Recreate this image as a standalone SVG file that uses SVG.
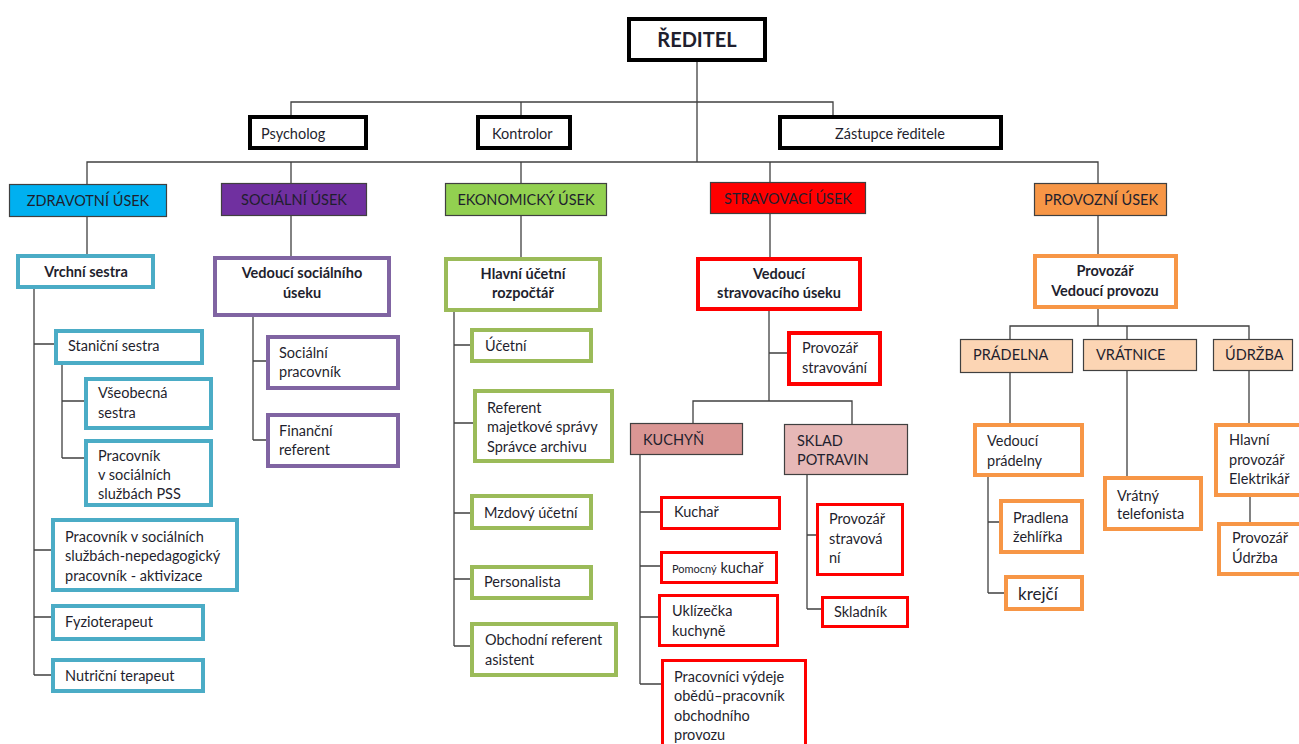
<svg xmlns="http://www.w3.org/2000/svg" width="1299" height="744" viewBox="0 0 1299 744">
<style>
.t{font-family:Lato,"Liberation Sans",sans-serif;font-size:14.5px;fill:#1f1f2e}
.b{font-weight:bold}
.c{text-anchor:middle}
.k{fill:#fff;stroke:#000;stroke-width:4}
.h{stroke:#404040;stroke-width:1.2}
.cy{fill:#fff;stroke:#4BACC6;stroke-width:4}
.pu{fill:#fff;stroke:#8064A2;stroke-width:4}
.gr{fill:#fff;stroke:#9BBB59;stroke-width:4}
.rd{fill:#fff;stroke:#FF0000;stroke-width:4}
.rd3{fill:#fff;stroke:#FF0000;stroke-width:3}
.or{fill:#fff;stroke:#F79646;stroke-width:4}
.ln{fill:none;stroke:#404040;stroke-width:1.3}
</style>
<rect width="1299" height="744" fill="#fff"/>
<g id="connectors" class="ln">
<path d="M697,62V162M291,115V102H833V115M521,102V115"/>
<path d="M87,184V162H1098V184M291,162V184M521,162V184M770,162V182"/>
<path d="M87,217V254M291,216V256M521,216V257M770,213V257M1098,216V254"/>
<path d="M34,289V675M34,344H54M34,550H51M34,617H51M34,675H51M62,365V458M62,401H84M62,458H84"/>
<path d="M253,317V440M253,361H266M253,440H266"/>
<path d="M454,312V646M454,345H470M454,423H473M454,513H470M454,579H470M454,646H470"/>
<path d="M769,311V401M769,353H787M693,423V401H852V424"/>
<path d="M640,455V684M640,512H660M640,566H660M640,617H658M640,684H661M807,475V609M807,535H816M807,609H821"/>
<path d="M1098,309V326M1010,339V326H1249V339M1127,326V339M1010,373V423M1127,371V477M1249,371V423M988,477V593M988,522H999M988,593H1004M1250,497V522"/>
</g>
<g id="reditel"><rect class="k" x="629" y="19" width="136" height="41"/><text class="t b c" x="697" y="47" style="font-size:20px">ŘEDITEL</text></g>
<g id="psycholog"><rect class="k" x="250" y="117" width="116" height="31"/><text class="t" x="261" y="139">Psycholog</text></g>
<g id="kontrolor"><rect class="k" x="478" y="117" width="92" height="31"/><text class="t" x="492" y="139">Kontrolor</text></g>
<g id="zastupce"><rect class="k" x="780" y="117" width="221" height="31"/><text class="t c" x="890" y="139">Zástupce ředitele</text></g>

<g id="zdravotni"><rect class="h" fill="#00B0F0" x="9.5" y="184.5" width="157" height="32"/><text class="t c" x="88" y="206">ZDRAVOTNÍ ÚSEK</text></g>
<g id="socialni"><rect class="h" fill="#7030A0" x="221.5" y="183.5" width="145" height="32"/><text class="t c" x="294" y="205">SOCIÁLNÍ ÚSEK</text></g>
<g id="ekonomicky"><rect class="h" fill="#92D050" x="445.5" y="183.5" width="161" height="32"/><text class="t c" x="526" y="205">EKONOMICKÝ ÚSEK</text></g>
<g id="stravovaci"><rect class="h" fill="#FF0000" x="710.5" y="182.5" width="155" height="31"/><text class="t c" x="788" y="204">STRAVOVACÍ ÚSEK</text></g>
<g id="provozni"><rect class="h" fill="#F79646" x="1034.5" y="183.5" width="132" height="32"/><text class="t c" x="1101" y="205">PROVOZNÍ ÚSEK</text></g>

<g id="vrchni-sestra"><rect class="cy" x="18" y="256" width="135" height="31"/><text class="t b c" x="86" y="277">Vrchní sestra</text></g>
<g id="stanicni-sestra"><rect class="cy" x="56" y="331" width="146" height="32"/><text class="t" x="68" y="351">Staniční sestra</text></g>
<g id="vseobecna-sestra"><rect class="cy" x="86" y="379" width="125" height="49"/><text class="t" x="98" y="398">Všeobecná</text><text class="t" x="98" y="418">sestra</text></g>
<g id="pracovnik-pss"><rect class="cy" x="86" y="441" width="125" height="64"/><text class="t" x="98" y="461">Pracovník</text><text class="t" x="98" y="480">v sociálních</text><text class="t" x="98" y="499">službách PSS</text></g>
<g id="pracovnik-aktivizace"><rect class="cy" x="53" y="520" width="184" height="70"/><text class="t" x="65" y="542">Pracovník v sociálních</text><text class="t" x="65" y="561">službách-nepedagogický</text><text class="t" x="65" y="581">pracovník - aktivizace</text></g>
<g id="fyzioterapeut"><rect class="cy" x="53" y="606" width="150" height="33"/><text class="t" x="65" y="627">Fyzioterapeut</text></g>
<g id="nutricni-terapeut"><rect class="cy" x="53" y="660" width="150" height="31"/><text class="t" x="65" y="681">Nutriční terapeut</text></g>

<g id="vedouci-socialniho"><rect class="pu" x="215" y="258" width="174" height="57"/><text class="t b c" x="302" y="278">Vedoucí sociálního</text><text class="t b c" x="302" y="298">úseku</text></g>
<g id="socialni-pracovnik"><rect class="pu" x="268" y="337" width="130" height="51"/><text class="t" x="279" y="358">Sociální</text><text class="t" x="279" y="377">pracovník</text></g>
<g id="financni-referent"><rect class="pu" x="268" y="415" width="130" height="51"/><text class="t" x="279" y="436">Finanční</text><text class="t" x="279" y="455">referent</text></g>

<g id="hlavni-ucetni"><rect class="gr" x="446" y="259" width="154" height="51"/><text class="t b c" x="523" y="279">Hlavní účetní</text><text class="t b c" x="523" y="298">rozpočtář</text></g>
<g id="ucetni"><rect class="gr" x="472" y="330" width="119" height="31"/><text class="t" x="485" y="351">Účetní</text></g>
<g id="referent"><rect class="gr" x="475" y="391" width="137" height="70"/><text class="t" x="487" y="413">Referent</text><text class="t" x="487" y="432">majetkové správy</text><text class="t" x="487" y="452">Správce archivu</text></g>
<g id="mzdovy-ucetni"><rect class="gr" x="472" y="496" width="119" height="32"/><text class="t" x="484" y="518">Mzdový účetní</text></g>
<g id="personalista"><rect class="gr" x="472" y="567" width="119" height="31"/><text class="t" x="484" y="587">Personalista</text></g>
<g id="obchodni-referent"><rect class="gr" x="472" y="624" width="144" height="51"/><text class="t" x="485" y="645">Obchodní referent</text><text class="t" x="485" y="665">asistent</text></g>

<g id="vedouci-stravovaciho"><rect class="rd" x="698" y="259" width="162" height="50"/><text class="t b c" x="779" y="279">Vedoucí</text><text class="t b c" x="779" y="298">stravovacího úseku</text></g>
<g id="provozar-stravovani"><rect class="rd" x="789" y="333" width="91" height="51"/><text class="t" x="802" y="353">Provozář</text><text class="t" x="802" y="373">stravování</text></g>
<g id="kuchyn"><rect class="h" fill="#DA9694" x="630.5" y="423.5" width="112" height="31"/><text class="t" x="643" y="445">KUCHYŇ</text></g>
<g id="sklad-potravin"><rect class="h" fill="#E6B8B7" x="784.5" y="424.5" width="123" height="50"/><text class="t" x="797" y="446">SKLAD</text><text class="t" x="797" y="465">POTRAVIN</text></g>
<g id="kuchar"><rect class="rd3" x="661.5" y="497.5" width="118" height="31"/><text class="t" x="674" y="517">Kuchař</text></g>
<g id="pomocny-kuchar"><rect class="rd3" x="661.5" y="552.5" width="115" height="30"/><text class="t" x="672" y="573"><tspan style="font-size:11px">Pomocný</tspan> kuchař</text></g>
<g id="uklizecka"><rect class="rd3" x="659.5" y="595.5" width="118" height="50"/><text class="t" x="672" y="616">Uklízečka</text><text class="t" x="672" y="636">kuchyně</text></g>
<g id="pracovnici-vydeje"><rect class="rd3" x="662.5" y="660.5" width="143" height="100"/><text class="t" x="674" y="682">Pracovníci výdeje</text><text class="t" x="674" y="701">obědů–pracovník</text><text class="t" x="674" y="721">obchodního</text><text class="t" x="674" y="740">provozu</text></g>
<g id="provozar-stravovani-2"><rect class="rd3" x="817.5" y="504.5" width="85" height="70"/><text class="t" x="829" y="524">Provozář</text><text class="t" x="829" y="544">stravová</text><text class="t" x="829" y="563">ní</text></g>
<g id="skladnik"><rect class="rd3" x="822.5" y="597.5" width="85" height="29"/><text class="t" x="834" y="617">Skladník</text></g>

<g id="vedouci-provozu"><rect class="or" x="1035" y="256" width="141" height="51"/><text class="t b c" x="1105" y="276">Provozář</text><text class="t b c" x="1105" y="296">Vedoucí provozu</text></g>
<g id="pradelna"><rect class="h" fill="#FCD5B4" x="960.5" y="339.5" width="112" height="33"/><text class="t" x="973" y="360">PRÁDELNA</text></g>
<g id="vratnice"><rect class="h" fill="#FCD5B4" x="1083.5" y="339.5" width="113" height="31"/><text class="t" x="1096" y="360">VRÁTNICE</text></g>
<g id="udrzba"><rect class="h" fill="#FCD5B4" x="1213.5" y="339.5" width="79" height="31"/><text class="t" x="1225" y="360">ÚDRŽBA</text></g>
<g id="vedouci-pradelny"><rect class="or" x="975" y="425" width="107" height="50"/><text class="t" x="987" y="446">Vedoucí</text><text class="t" x="987" y="466">prádelny</text></g>
<g id="pradlena"><rect class="or" x="1001" y="501" width="81" height="51"/><text class="t" x="1013" y="523">Pradlena</text><text class="t" x="1013" y="542">žehlířka</text></g>
<g id="krejci"><rect class="or" x="1006" y="577" width="76" height="32"/><text class="t" x="1018" y="600" style="font-size:17px">krejčí</text></g>
<g id="vratny"><rect class="or" x="1105" y="478" width="96" height="51"/><text class="t" x="1117" y="501">Vrátný</text><text class="t" x="1117" y="519">telefonista</text></g>
<g id="hlavni-provozar"><rect class="or" x="1216" y="425" width="96" height="70"/><text class="t" x="1229" y="445">Hlavní</text><text class="t" x="1229" y="465">provozář</text><text class="t" x="1229" y="484">Elektrikář</text></g>
<g id="provozar-udrzba"><rect class="or" x="1219" y="524" width="95" height="50"/><text class="t" x="1232" y="543">Provozář</text><text class="t" x="1232" y="563">Údržba</text></g>
</svg>
